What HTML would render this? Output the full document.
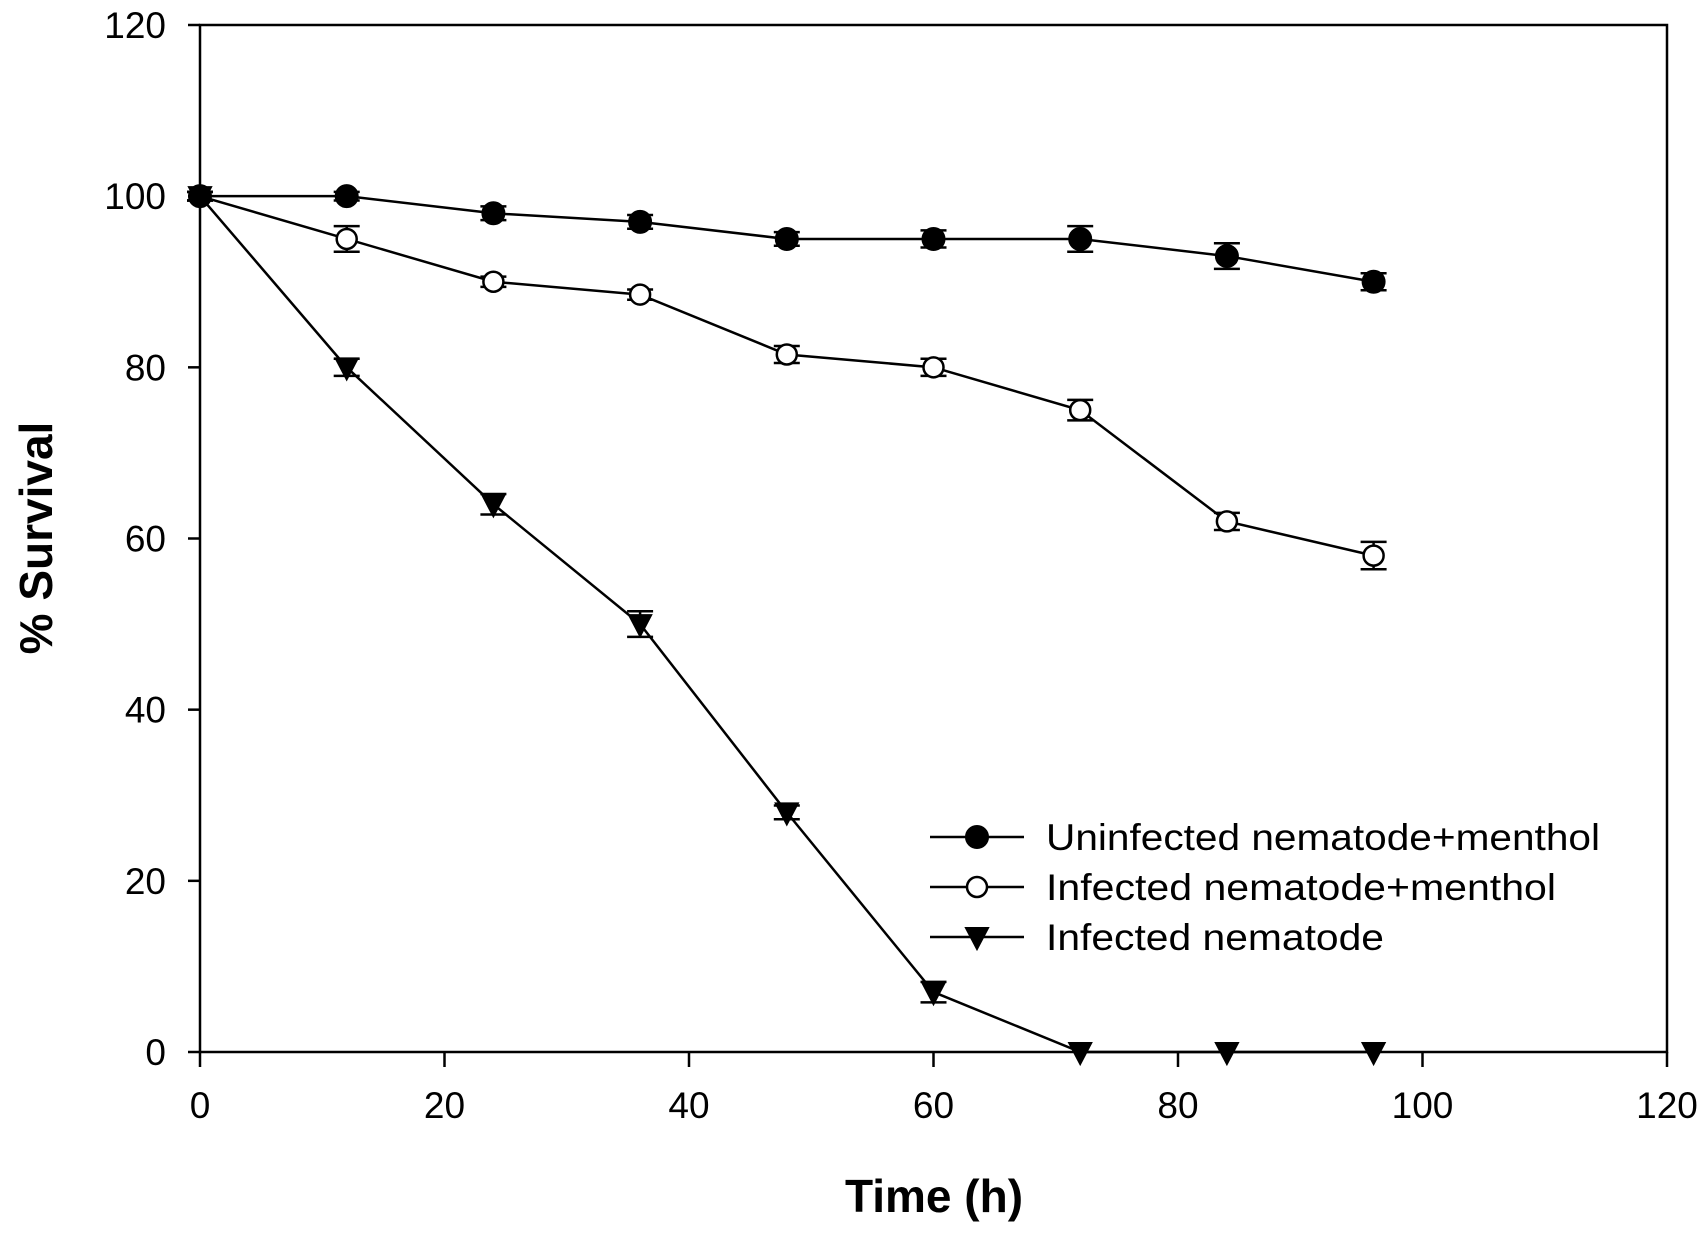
<!DOCTYPE html>
<html><head><meta charset="utf-8"><style>
html,body{margin:0;padding:0;background:#fff}
svg{display:block;font-family:"Liberation Sans",Arial,sans-serif}
</style></head><body>
<svg id="chart" width="1707" height="1237" viewBox="0 0 1707 1237" xmlns="http://www.w3.org/2000/svg"></svg>
<script>
const times = [0, 12, 24, 36, 48, 60, 72, 84, 96];
const uninfected = [100, 100, 98, 97, 95, 95, 95, 93, 90];
const uninfectedErr = [0.5, 0.5, 0.8, 0.8, 0.8, 1, 1.5, 1.5, 1];
const infectedMenthol = [100, 95, 90, 88.5, 81.5, 80, 75, 62, 58];
const infectedMentholErr = [0.5, 1.5, 0.6, 0.6, 1, 1, 1.2, 1, 1.6];
const infected = [100, 80, 64, 50, 28, 7, 0, 0, 0];
const infectedErr = [0.5, 1, 1.2, 1.5, 0.8, 1.2, 0, 0, 0];
const xTicks = [0, 20, 40, 60, 80, 100, 120];
const yTicks = [0, 20, 40, 60, 80, 100, 120];
const legendLabels = ["Uninfected nematode+menthol", "Infected nematode+menthol", "Infected nematode"];

const NS = "http://www.w3.org/2000/svg";
const svg = document.getElementById('chart');
const X0 = 200, X1 = 1667, Y0 = 1052, Y1 = 25;
function xs(v){ return X0 + (v - 0) / 120 * (X1 - X0); }
function ys(v){ return Y0 - (v - 0) / 120 * (Y0 - Y1); }
function mk(tag, attrs, parent){
  const e = document.createElementNS(NS, tag);
  for (const k in attrs) e.setAttribute(k, attrs[k]);
  (parent || svg).appendChild(e);
  return e;
}

const frame = mk('rect', {x:X0, y:Y1, width:X1-X0, height:Y0-Y1, fill:'none', stroke:'#000', 'stroke-width':2.5});



xTicks.forEach(t => {
  const l = mk('line', {x1:xs(t), x2:xs(t), y1:Y0, y2:Y0+15, stroke:'#000', 'stroke-width':2.5});
  
  
  const tx = mk('text', {x:xs(t), y:Y0+66, 'font-size':37, 'text-anchor':'middle'});
  tx.textContent = t;
  
  
});
yTicks.forEach(t => {
  const l = mk('line', {x1:X0-12, x2:X0, y1:ys(t), y2:ys(t), stroke:'#000', 'stroke-width':2.5});
  
  
  const tx = mk('text', {x:X0-34, y:ys(t)+13, 'font-size':37, 'text-anchor':'end'});
  tx.textContent = t;
  
  
});

const xt = mk('text', {x:934, y:1212, 'font-size':46, 'font-weight':'bold', 'text-anchor':'middle'});
xt.textContent = 'Time (h)';


const yt = mk('text', {x:0, y:0, 'font-size':46, 'font-weight':'bold', 'text-anchor':'middle', transform:'translate(52,538) rotate(-90)'});
yt.textContent = '% Survival';



function marker(type, cx, cy, g){
  if (type === 'filled') return mk('circle', {cx, cy, r:11, fill:'#000', stroke:'#000', 'stroke-width':2}, g);
  if (type === 'open') return mk('circle', {cx, cy, r:10, fill:'#fff', stroke:'#000', 'stroke-width':2.5}, g);
  return mk('polygon', {points:`${cx-11},${cy-9} ${cx+11},${cy-9} ${cx},${cy+12}`, fill:'#000', stroke:'#000', 'stroke-width':2}, g);
}

function series(vals, errs, type, name){
  const g = mk('g', {});
  
  
  const pts = vals.map((v,i) => xs(times[i]) + ',' + ys(v)).join(' ');
  const pl = mk('polyline', {points:pts, fill:'none', stroke:'#000', 'stroke-width':2.5}, g);
  
  
  vals.forEach((v,i) => {
    const e = errs[i];
    if (e > 0) {
      const cx = xs(times[i]);
      const eb = mk('path', {d:`M${cx},${ys(v-e)}V${ys(v+e)}M${cx-13},${ys(v+e)}H${cx+13}M${cx-13},${ys(v-e)}H${cx+13}`, stroke:'#000', 'stroke-width':2.5, fill:'none'}, g);
      
      
    }
    const m = marker(type, xs(times[i]), ys(v), g);
    
    
  });
}
series(infected, infectedErr, 'tri', 'infected-series');
series(infectedMenthol, infectedMentholErr, 'open', 'infected-menthol-series');
series(uninfected, uninfectedErr, 'filled', 'uninfected-menthol-series');

const types = ['filled', 'open', 'tri'];
const widths = [554, 510, 338];
legendLabels.forEach((lab, i) => {
  const y = 837 + i * 50;
  const g = mk('g', {});
  
  
  mk('line', {x1:930, x2:1024, y1:y, y2:y, stroke:'#000', 'stroke-width':2.5}, g);
  marker(types[i], 977, y, g);
  const t = mk('text', {x:1046, y:y+13, 'font-size':37, textLength:widths[i], lengthAdjust:'spacingAndGlyphs'}, g);
  t.textContent = lab;
});
</script>
</body></html>
